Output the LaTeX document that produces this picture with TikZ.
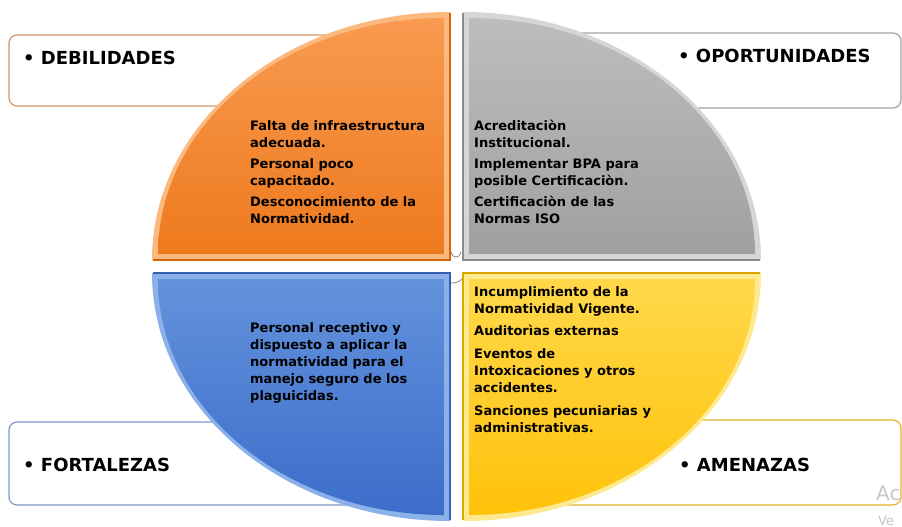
\documentclass[tikz,border=0pt]{standalone}
\usepackage{fontspec}
\setmainfont{DejaVu Sans}
\definecolor{orTop}{HTML}{F89A50}
\definecolor{orBot}{HTML}{EE7A1E}
\definecolor{orHi}{HTML}{FBB97E}
\definecolor{orEdge}{HTML}{D2660F}
\definecolor{grTop}{HTML}{BDBDBD}
\definecolor{grBot}{HTML}{A0A0A0}
\definecolor{grHi}{HTML}{D6D6D6}
\definecolor{grEdge}{HTML}{8A8A8A}
\definecolor{blTop}{HTML}{6392DC}
\definecolor{blBot}{HTML}{3C6DCA}
\definecolor{blHi}{HTML}{8CB0EA}
\definecolor{blEdge}{HTML}{3560B0}
\definecolor{yeTop}{HTML}{FFD84A}
\definecolor{yeBot}{HTML}{FFC20A}
\definecolor{yeHi}{HTML}{FFE98E}
\definecolor{yeEdge}{HTML}{DDA500}
\definecolor{bxOr}{HTML}{DA9366}
\definecolor{bxGr}{HTML}{A2A2A2}
\definecolor{bxBl}{HTML}{7D9ACB}
\definecolor{bxYe}{HTML}{E4B52C}
\begin{document}
\begin{tikzpicture}[x=1pt,y=-1pt,
  lbl/.style={anchor=base west, inner sep=0pt, font=\fontsize{18}{21}\selectfont\bfseries},
  body/.style={anchor=north west, inner sep=0pt, align=left, font=\fontsize{13}{17}\selectfont\bfseries},
  sbox/.style={rounded corners=8pt, line width=1.2pt, fill=white},
  edgeline/.style={line width=1.5pt},
  tinyarc/.style={draw=gray!70!brown, line width=0.8pt},
  wm/.style={anchor=base west, inner sep=0pt, text=black!22}]
\useasboundingbox (0,0) rectangle (902,527);
\fill[white] (0,0) rectangle (902,527);

% label boxes (behind the quadrants)
\draw[sbox, draw=bxOr] (9,35) rectangle (440,106);
\draw[sbox, draw=bxGr] (470,33) rectangle (901,108);
\draw[sbox, draw=bxBl] (9,422) rectangle (440,505);
\draw[sbox, draw=bxYe] (470,420) rectangle (901,505);

% orange quadrant (top left)
\fill[orHi] (450,260) -- (152,260) arc[start angle=180,end angle=270,x radius=298,y radius=248] -- cycle;
\shade[top color=orTop,bottom color=orBot] (444,254) -- (158,254) arc[start angle=180,end angle=270,x radius=286,y radius=236] -- cycle;
\draw[orEdge, edgeline] (450,13) -- (450,260) -- (153,260);

% gray quadrant (top right)
\fill[grHi] (463,260) -- (463,12) arc[start angle=270,end angle=360,x radius=298,y radius=248] -- cycle;
\shade[top color=grTop,bottom color=grBot] (469,254) -- (469,18) arc[start angle=270,end angle=360,x radius=286,y radius=236] -- cycle;
\draw[grEdge, edgeline] (463,13) -- (463,260) -- (760,260);

% blue quadrant (bottom left)
\fill[blHi] (450,273) -- (152,273) arc[start angle=180,end angle=90,x radius=298,y radius=248] -- cycle;
\shade[top color=blTop,bottom color=blBot] (444,279) -- (158,279) arc[start angle=180,end angle=90,x radius=286,y radius=236] -- cycle;
\draw[blEdge, edgeline] (153,273) -- (450,273) -- (450,520);

% yellow quadrant (bottom right)
\fill[yeHi] (463,273) -- (761,273) arc[start angle=0,end angle=90,x radius=298,y radius=248] -- cycle;
\shade[top color=yeTop,bottom color=yeBot] (469,279) -- (755,279) arc[start angle=0,end angle=90,x radius=286,y radius=236] -- cycle;
\draw[yeEdge, edgeline] (760,273) -- (463,273) -- (463,520);

% small marks near the centre
\draw[tinyarc] (451,252) .. controls (453,259) and (459,259) .. (461,252);
\draw[tinyarc] (451,283) .. controls (456,283) and (459,282) .. (462,279);

% headings
\node[lbl] (deb) at (23,64) {• DEBILIDADES};
\node[lbl] (opo) at (678,63) {• OPORTUNIDADES};
\node[lbl] (fort) at (23,471) {• FORTALEZAS};
\node[lbl] (ame) at (679,471) {• AMENAZAS};

% contents
\node[body] (tdeb) at (250,120) {Falta de infraestructura\\adecuada.\\[4pt]Personal poco\\capacitado.\\[4pt]Desconocimiento de la\\Normatividad.};
\node[body] (topo) at (474,120) {Acreditaciòn\\Institucional.\\[4pt]Implementar BPA para\\posible Certificaciòn.\\[4pt]Certificaciòn de las\\Normas ISO};
\node[body] (tfort) at (250,322) {Personal receptivo y\\dispuesto a aplicar la\\normatividad para el\\manejo seguro de los\\plaguicidas.};
\node[body] (tame) at (474,286) {Incumplimiento de la\\Normatividad Vigente.\\[5pt]Auditorìas externas\\[6pt]Eventos de\\Intoxicaciones y otros\\accidentes.\\[6pt]Sanciones pecuniarias y\\administrativas.};

% faint watermark fragments
\node[wm, font=\fontsize{20}{20}\selectfont] (wm1) at (876,500) {Ac};
\node[wm, font=\fontsize{13}{13}\selectfont] (wm2) at (878,525) {Ve};
\end{tikzpicture}
\end{document}
